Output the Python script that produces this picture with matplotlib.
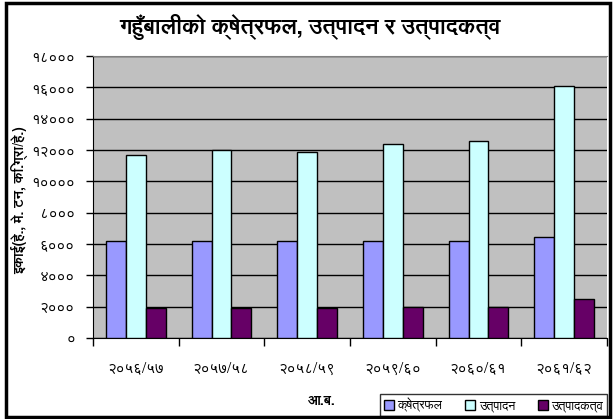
import matplotlib
matplotlib.use("Agg")
import matplotlib.pyplot as plt
import numpy as np
from matplotlib.patches import Rectangle

# ---- data ----
categories = ['२०५६/५७', '२०५७/५८', '२०५८/५९', '२०५९/६०', '२०६०/६१', '२०६१/६२']
area = [6170, 6170, 6170, 6170, 6170, 6470]              # क्षेत्रफल
production = [11660, 11980, 11890, 12360, 12570, 16100]  # उत्पादन
productivity = [1890, 1900, 1900, 1990, 1990, 2500]      # उत्पादकत्व
series_names = ['क्षेत्रफल', 'उत्पादन', 'उत्पादकत्व']
ytick_values = [0, 2000, 4000, 6000, 8000, 10000, 12000, 14000, 16000, 18000]
ytick_labels = ['०', '२०००', '४०००', '६०००', '८०००', '१००००', '१२०००', '१४०००', '१६०००', '१८०००']
title = 'गहुँबालीको क्षेत्रफल, उत्पादन र उत्पादकत्व'
ylabel = 'इकाई(हे., मे. टन, कि.ग्रा/हे.)'
xlabel = 'आ.ब.'

plt.rcParams['font.family'] = ['FreeSans', 'DejaVu Sans']

colors = ['#9999FF', '#CCFFFF', '#660066']

fig = plt.figure(figsize=(6.13, 4.19), dpi=100)
ax = fig.add_axes([93/613, (419-338)/419, (607-93)/613, (338-56)/419])
ax.set_facecolor('#C0C0C0')

x = np.arange(len(categories))
w = 0.233
for i, (vals, c, name) in enumerate(zip([area, production, productivity], colors, series_names)):
    ax.bar(x + (i - 1) * w, vals, w, color=c, edgecolor='black', linewidth=1.0,
           label=name, zorder=3)

ax.set_xlim(-0.5, len(categories) - 0.5)
ax.set_ylim(0, 18000)
ax.set_yticks(ytick_values)
ax.set_yticklabels(ytick_labels, fontsize=11)
ax.yaxis.grid(True, color='black', linewidth=1.0, zorder=0)
ax.set_axisbelow(True)
ax.set_xticks(x)
ax.set_xticklabels(categories, fontsize=11)
ax.tick_params(axis='x', length=0, pad=17)
ax.set_xticks(np.arange(len(categories) + 1) - 0.5, minor=True)
ax.tick_params(axis='x', which='minor', length=6, color='black', width=1)
ax.tick_params(axis='y', length=5, color='black', width=1, pad=8)

ax.spines['left'].set_color('black')
ax.spines['bottom'].set_color('black')
ax.spines['top'].set_color('#808080')
ax.spines['right'].set_visible(False)

fig.text(310/613, 1 - 27/419, title, ha='center', va='center', fontsize=16, fontweight='bold')
fig.text(20/613, 1 - 200/419, ylabel, ha='center', va='center', rotation=90,
         fontsize=10, fontweight='bold')
fig.text(322/613, 1 - 401/419, xlabel, ha='center', va='center', fontsize=10, fontweight='bold')

leg = fig.legend(loc='lower left', bbox_to_anchor=(380/613, 3/419, (607-380)/613, (389-3)/419),
                 mode='expand', ncol=3, fontsize=9, frameon=True, fancybox=False, edgecolor='black',
                 handlelength=0.8, handleheight=0.8, handletextpad=0.3, columnspacing=0.8,
                 borderpad=0.3, borderaxespad=0)
leg.get_frame().set_linewidth(1.0)

fig.patches.append(Rectangle((6/613, 2/419), (610-6)/613, (416-2)/419, transform=fig.transFigure,
                             fill=False, edgecolor='black', linewidth=2.5, zorder=10))

fig.savefig('out.png', dpi=100, facecolor='white')
